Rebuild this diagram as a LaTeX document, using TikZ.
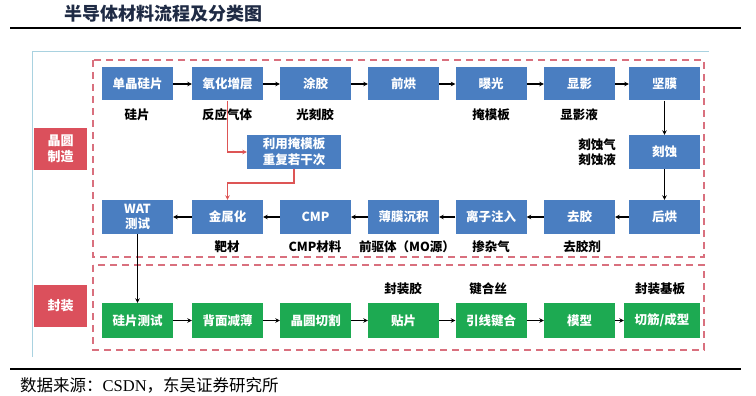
\documentclass[tikz,border=0pt]{standalone}
\usepackage{fontspec}
\usepackage{tikz}
\usetikzlibrary{arrows.meta}
\newfontfamily\cjk{Noto Sans CJK SC}
\newfontfamily\lserif{Liberation Serif}
\definecolor{procblue}{HTML}{4A7EC1}
\definecolor{pkggreen}{HTML}{1DAA52}
\definecolor{stagered}{HTML}{DB505C}
\definecolor{dashred}{HTML}{D9707E}
\definecolor{linered}{HTML}{DD5555}
\definecolor{framecyan}{HTML}{A9D2E0}
\definecolor{titlenavy}{HTML}{1F2B45}

\tikzset{
  procbox/.style={fill=procblue, text=white, font={\cjk\bfseries\fontsize{12.5pt}{15pt}\selectfont},
    minimum width=71pt, minimum height=33pt, inner sep=0pt, align=center},
  pkgbox/.style={procbox, fill=pkggreen, minimum height=35pt},
  stagebox/.style={fill=stagered, text=white, font={\cjk\bfseries\fontsize{13pt}{16pt}\selectfont},
    minimum width=53pt, minimum height=42pt, inner sep=0pt, align=center},
  matlabel/.style={text=black, font={\cjk\bfseries\fontsize{12.5pt}{15pt}\selectfont}, inner sep=0pt, align=center},
  flow/.style={-{Stealth[length=4.5pt,width=4.5pt]}, line width=1.1pt},
  maskflow/.style={flow, draw=linered},
  stagedash/.style={draw=dashred, line width=1.8pt, dash pattern=on 7pt off 5pt}
}

\begin{document}
\begin{tikzpicture}[x=1pt, y=-1pt]
  \useasboundingbox (0,0) rectangle (756,396);

  % title and rules
  \node[text=titlenavy, font={\cjk\bfseries\fontsize{18pt}{20pt}\selectfont}] (title) at (163.5,14) {半导体材料流程及分类图};
  \draw[line width=2pt] (10,28) -- (741,28);
  \draw[line width=2pt] (10,369) -- (741,369);
  \node[anchor=west, font={\cjk\fontsize{16.5pt}{18pt}\selectfont}, inner sep=0pt] (source) at (20,385) {数据来源：{\lserif CSDN}，东吴证券研究所};

  % outer frame (top and left only)
  \draw[framecyan, line width=1pt] (32,357) -- (32,52) -- (709,52);

  % stage frames
  \draw[stagedash] (93,60) rectangle (704,257);
  \draw[stagedash] (93,265) rectangle (704,350);
  \node[stagebox] (fab) at (60.5,149) {晶圆\\制造};
  \node[stagebox] (pack) at (60.5,306) {封装};

  % wafer fab, row 1
  \node[procbox] (mono) at (137.5,84) {单晶硅片};
  \node[procbox] (oxide) at (227.5,84) {氧化增层};
  \node[procbox] (coat) at (315.5,84) {涂胶};
  \node[procbox] (prebake) at (403.5,84) {前烘};
  \node[procbox] (expose) at (491,84) {曝光};
  \node[procbox] (develop) at (579.5,84) {显影};
  \node[procbox] (hardbake) at (664.5,84) {坚膜};

  \node[matlabel] (lwafer) at (137,115) {硅片};
  \node[matlabel] (lgas) at (227,115) {反应气体};
  \node[matlabel] (lresist) at (315,115) {光刻胶};
  \node[matlabel] (lmask) at (491,115) {掩模板};
  \node[matlabel] (ldev) at (579,115) {显影液};

  \draw[flow] (mono) -- (oxide);
  \draw[flow] (oxide) -- (coat);
  \draw[flow] (coat) -- (prebake);
  \draw[flow] (prebake) -- (expose);
  \draw[flow] (expose) -- (develop);
  \draw[flow] (develop) -- (hardbake);

  % etch on the right
  \node[procbox, minimum height=34pt] (etch) at (664.5,152) {刻蚀};
  \node[matlabel] (letch) at (597,152) {刻蚀气\\刻蚀液};
  \draw[flow] (hardbake) -- (etch);

  % wafer fab, row 2 (right to left)
  \node[procbox, minimum height=34pt] (postbake) at (664.5,217) {后烘};
  \node[procbox, minimum height=34pt] (strip) at (579.5,217) {去胶};
  \node[procbox, minimum height=34pt] (implant) at (491,217) {离子注入};
  \node[procbox, minimum height=34pt] (film) at (403.5,217) {薄膜沉积};
  \node[procbox, minimum height=34pt] (cmp) at (315.5,217) {CMP};
  \node[procbox, minimum height=34pt] (metal) at (227.5,217) {金属化};
  \node[procbox, minimum height=34pt] (wat) at (137.5,217) {WAT\\测试};

  \node[matlabel] (lstrip) at (582,247) {去胶剂};
  \node[matlabel] (ldope) at (491,247) {掺杂气};
  \node[matlabel] (lmo) at (407,247) {前驱体（MO源）};
  \node[matlabel] (lcmp) at (315,247) {CMP材料};
  \node[matlabel] (ltarget) at (227,247) {靶材};

  \draw[flow] (etch) -- (postbake);
  \draw[flow] (postbake) -- (strip);
  \draw[flow] (strip) -- (implant);
  \draw[flow] (implant) -- (film);
  \draw[flow] (film) -- (cmp);
  \draw[flow] (cmp) -- (metal);
  \draw[flow] (metal) -- (wat);

  % mask repeat loop
  \node[procbox, minimum width=94pt, minimum height=34pt, font={\cjk\bfseries\fontsize{12.5pt}{16pt}\selectfont}] (repeat) at (294,152) {利用掩模板\\重复若干次};
  \coordinate (bend) at (227.5,183);
  \draw[maskflow] (oxide.south) |- (repeat.west);
  \draw[maskflow] (repeat.south) |- (bend) -- (metal.north);

  % packaging row
  \node[pkgbox] (sitest) at (137.5,320.5) {硅片测试};
  \node[pkgbox] (thin) at (227.5,320.5) {背面减薄};
  \node[pkgbox] (dice) at (315.5,320.5) {晶圆切割};
  \node[pkgbox] (attach) at (403.5,320.5) {贴片};
  \node[pkgbox] (bond) at (491,320.5) {引线键合};
  \node[pkgbox] (mold) at (579.5,320.5) {模型};
  \node[pkgbox, minimum width=76pt] (trim) at (662,320.5) {切筋/成型};

  \node[matlabel] (lglue) at (403,289) {封装胶};
  \node[matlabel] (lwire) at (488,289) {键合丝};
  \node[matlabel] (lsub) at (660,289) {封装基板};

  \draw[flow] (wat) -- (sitest);
  \draw[flow] (sitest) -- (thin);
  \draw[flow] (thin) -- (dice);
  \draw[flow] (dice) -- (attach);
  \draw[flow] (attach) -- (bond);
  \draw[flow] (bond) -- (mold);
  \draw[flow] (mold) -- (trim);
\end{tikzpicture}
\end{document}
